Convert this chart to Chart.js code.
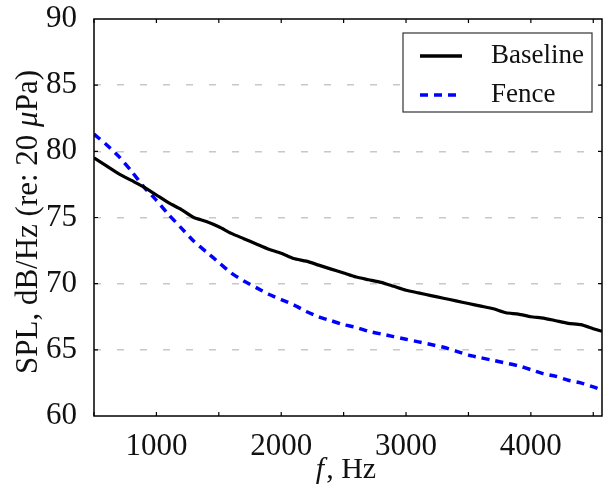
<!DOCTYPE html>
<html>
<head>
<meta charset="utf-8">
<script src="https://cdn.jsdelivr.net/npm/chart.js@4"></script>
<style>
  html, body { margin: 0; padding: 0; background: #fff; }
</style>
</head>
<body>
<canvas id="splChart" width="603" height="489"></canvas>
<script>
// frequency samples (Hz)
var freqHz = [500, 600, 700, 800, 900, 1000, 1100, 1200, 1300, 1400, 1500, 1600, 1700, 1800, 1900,
    2000, 2100, 2200, 2300, 2400, 2500, 2600, 2700, 2800, 2900, 3000, 3100, 3200, 3300, 3400,
    3500, 3600, 3700, 3800, 3900, 4000, 4100, 4200, 4300, 4400, 4500, 4570];

// SPL values, dB/Hz
var baselineSpl = [79.5, 78.9, 78.3, 77.8, 77.3, 76.7, 76.1, 75.6, 75.0, 74.7, 74.3, 73.8, 73.4, 73.0, 72.6,
    72.3, 71.9, 71.7, 71.4, 71.1, 70.8, 70.5, 70.3, 70.1, 69.8, 69.5, 69.3, 69.1, 68.9, 68.7,
    68.5, 68.3, 68.1, 67.8, 67.7, 67.5, 67.4, 67.2, 67.0, 66.9, 66.6, 66.4];
var fenceSpl = [81.3, 80.5, 79.6, 78.5, 77.3, 76.3, 75.2, 74.2, 73.2, 72.4, 71.6, 70.8, 70.2, 69.7, 69.2,
    68.8, 68.4, 67.9, 67.5, 67.2, 66.9, 66.7, 66.4, 66.2, 66.0, 65.8, 65.6, 65.4, 65.2, 64.9,
    64.6, 64.4, 64.2, 64.0, 63.8, 63.5, 63.2, 63.0, 62.7, 62.5, 62.2, 61.95];

var seriesNames = ["Baseline", "Fence"];
var xTickLabels = [1000, 2000, 3000, 4000];

var serif = "'Liberation Serif', 'DejaVu Serif', serif";

function toPoints(xvals, yvals) {
    var out = [];
    for (var i = 0; i < xvals.length; i++) out.push({ x: xvals[i], y: yvals[i] });
    return out;
}

// frame, inward ticks, x labels, axis titles and legend box
function drawFrame(chart) {
    var ctx = chart.ctx;
    var a = chart.chartArea;
    var xs = chart.scales.x, ys = chart.scales.y;
    ctx.save();
    ctx.strokeStyle = '#000';
    ctx.lineWidth = 1.5;
    ctx.strokeRect(a.left, a.top, a.right - a.left, a.bottom - a.top);

    ctx.lineWidth = 1.2;
    for (var f = 500; f <= 4500; f += 500) {
        var px = xs.getPixelForValue(f);
        ctx.beginPath();
        ctx.moveTo(px, a.bottom); ctx.lineTo(px, a.bottom - 4);
        ctx.moveTo(px, a.top); ctx.lineTo(px, a.top + 4);
        ctx.stroke();
    }
    for (var v = 65; v <= 85; v += 5) {
        var py = ys.getPixelForValue(v);
        ctx.beginPath();
        ctx.moveTo(a.left, py); ctx.lineTo(a.left + 4, py);
        ctx.moveTo(a.right, py); ctx.lineTo(a.right - 4, py);
        ctx.stroke();
    }

    // x tick labels
    ctx.fillStyle = '#111';
    ctx.font = '31px ' + serif;
    ctx.textAlign = 'center';
    ctx.textBaseline = 'alphabetic';
    for (var k = 0; k < xTickLabels.length; k++) {
        ctx.fillText(String(xTickLabels[k]), xs.getPixelForValue(xTickLabels[k]), 455);
    }

    // x title with italic f
    ctx.textAlign = 'left';
    ctx.font = 'italic 30px ' + serif;
    var fW = ctx.measureText('f').width;
    ctx.font = '30px ' + serif;
    var restW = ctx.measureText(', Hz').width;
    var cx = 345 - (fW + restW) / 2;
    ctx.font = 'italic 30px ' + serif;
    ctx.fillText('f', cx, 478);
    ctx.font = '30px ' + serif;
    ctx.fillText(', Hz', cx + fW + 2, 478);

    // y title, rotated, italic mu
    ctx.save();
    ctx.translate(37, 222);
    ctx.rotate(-Math.PI / 2);
    var p1 = 'SPL, dB/Hz (re: 20 ', p2 = '\u03bc', p3 = 'Pa)';
    ctx.font = '31px ' + serif;
    var w1 = ctx.measureText(p1).width, w3 = ctx.measureText(p3).width;
    ctx.font = 'italic 31px ' + serif;
    var w2 = ctx.measureText(p2).width;
    var sx = -(w1 + w2 + w3) / 2;
    ctx.font = '31px ' + serif;
    ctx.fillText(p1, sx, 0);
    ctx.font = 'italic 31px ' + serif;
    ctx.fillText(p2, sx + w1, 0);
    ctx.font = '31px ' + serif;
    ctx.fillText(p3, sx + w1 + w2, 0);
    ctx.restore();

    // legend
    var lx = 403, ly = 33, lw = 189, lh = 79;
    ctx.fillStyle = '#fff';
    ctx.fillRect(lx, ly, lw, lh);
    ctx.strokeStyle = '#333';
    ctx.lineWidth = 1.2;
    ctx.strokeRect(lx, ly, lw, lh);
    var ds = chart.data.datasets;
    var rows = [56, 95];
    for (var i = 0; i < ds.length; i++) {
        ctx.beginPath();
        ctx.strokeStyle = ds[i].borderColor;
        ctx.lineWidth = 3.5;
        ctx.setLineDash(ds[i].legendDash);
        ctx.moveTo(420, rows[i]);
        ctx.lineTo(462, rows[i]);
        ctx.stroke();
        ctx.setLineDash([]);
        ctx.fillStyle = '#111';
        ctx.font = '27px ' + serif;
        ctx.textBaseline = 'middle';
        ctx.fillText(ds[i].label, 491, rows[i]);
    }
    ctx.restore();
}

var framePlugin = {
    id: 'plotFrame',
    afterDraw: function (chart) { drawFrame(chart); }
};

new Chart(document.getElementById('splChart'), {
    type: 'line',
    data: {
        datasets: [{
            label: seriesNames[0],
            data: toPoints(freqHz, baselineSpl),
            borderColor: '#000',
            borderWidth: 3.2,
            legendDash: [],
            pointRadius: 0,
            tension: 0.2
        }, {
            label: seriesNames[1],
            data: toPoints(freqHz, fenceSpl),
            borderColor: '#0000ff',
            borderWidth: 3.5,
            borderDash: [8, 6],
            legendDash: [8, 6],
            pointRadius: 0,
            tension: 0.2
        }]
    },
    options: {
        responsive: false,
        animation: false,
        layout: { padding: { top: 19, right: 1, left: 0, bottom: 0 } },
        plugins: {
            legend: { display: false },
            tooltip: { enabled: false }
        },
        scales: {
            x: {
                type: 'linear',
                min: 500,
                max: 4570,
                afterFit: function (s) {
                    s.height = 73;
                    s.paddingLeft = 0;
                    s.paddingRight = 0;
                },
                ticks: { display: false, stepSize: 500 },
                grid: { display: false, drawTicks: false },
                border: { display: false }
            },
            y: {
                min: 60,
                max: 90,
                afterFit: function (s) {
                    s.width = 94;
                    s.paddingTop = 0;
                    s.paddingBottom = 0;
                },
                ticks: {
                    stepSize: 5,
                    color: '#111',
                    padding: 17,
                    font: { family: serif, size: 31 }
                },
                grid: {
                    drawTicks: false,
                    lineWidth: 1.5,
                    color: function (c) {
                        var v = c.tick ? c.tick.value : null;
                        return (v === 60 || v === 90) ? 'rgba(0,0,0,0)' : '#c8c8c8';
                    }
                },
                border: { display: false, dash: [7, 16] }
            }
        }
    },
    plugins: [framePlugin]
});
</script>
</body>
</html>
